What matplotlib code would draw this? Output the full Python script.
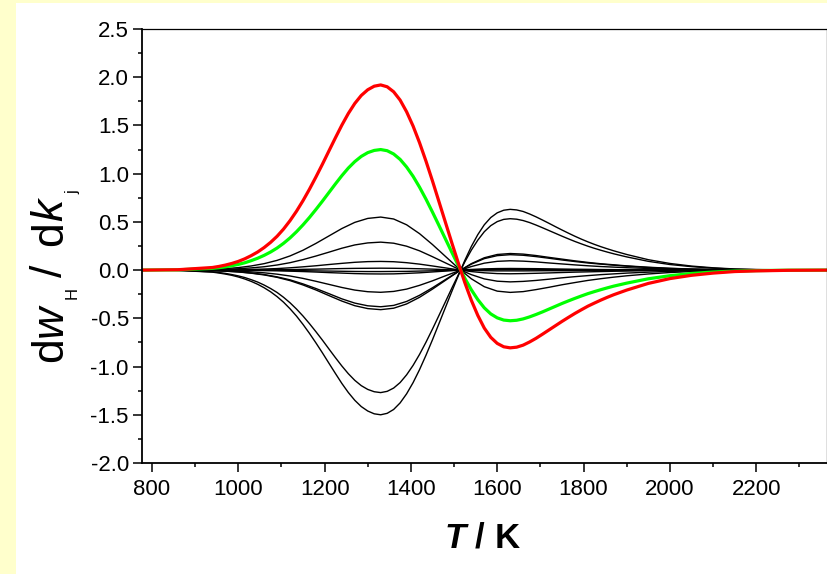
import matplotlib
matplotlib.use("Agg")
import matplotlib.pyplot as plt
from matplotlib.patches import Rectangle
from matplotlib.ticker import MultipleLocator

plt.rcParams['font.family'] = ['Liberation Sans', 'DejaVu Sans']
plt.rcParams['mathtext.fontset'] = 'custom'
plt.rcParams['mathtext.rm'] = 'Liberation Sans'
plt.rcParams['mathtext.it'] = 'Liberation Sans:italic'
plt.rcParams['mathtext.bf'] = 'Liberation Sans:bold'
try:
    plt.rcParams['mathtext.bfit'] = 'Liberation Sans:bold:italic'
except KeyError:
    pass

# Temperature grids (K): fine grid for the large-amplitude curves,
# coarse grid for the smaller ones
T_fine = [775, 860,
          940, 955, 970, 985, 1000, 1015, 1030, 1045, 1060, 1075, 1090, 1105,
          1120, 1135, 1150, 1165, 1180, 1195, 1210, 1225, 1240, 1255, 1270, 1285,
          1300, 1315, 1330, 1345, 1360, 1375, 1390, 1405, 1420, 1435, 1450, 1465,
          1480, 1495, 1510, 1525, 1540, 1555, 1570, 1585, 1600, 1615, 1630, 1645,
          1660, 1675, 1690, 1705, 1720, 1735, 1750, 1765, 1780, 1795, 1810, 1825,
          1840, 1855, 1870,
          1900, 1950, 2000, 2050, 2100, 2150, 2200, 2275, 2365]

T_coarse = [775, 860,
            940, 970, 1000, 1030, 1060, 1090, 1120, 1150, 1180, 1210, 1240, 1270,
            1300, 1330, 1360, 1390, 1420, 1450, 1480, 1510, 1540, 1570, 1600, 1630,
            1660, 1690, 1720, 1750, 1780, 1810, 1840, 1870,
            1900, 1950, 2000, 2050, 2100, 2150, 2200, 2275, 2365]

# Highlighted reactions (fine grid)
dw_red = [0, 0.004,
          0.027, 0.038, 0.052, 0.069, 0.090, 0.117, 0.150, 0.188, 0.234, 0.288, 0.351, 0.426,
          0.513, 0.611, 0.720, 0.839, 0.966, 1.098, 1.235, 1.371, 1.503, 1.624, 1.728, 1.811,
          1.870, 1.907, 1.920, 1.901, 1.849, 1.763, 1.642, 1.494, 1.321, 1.129, 0.924, 0.710,
          0.495, 0.280, 0.071, -0.131, -0.313, -0.470, -0.601, -0.697, -0.760, -0.795, -0.806, -0.799,
          -0.778, -0.745, -0.707, -0.664, -0.620, -0.576, -0.532, -0.490, -0.449, -0.411, -0.374, -0.342,
          -0.311, -0.282, -0.255,
          -0.207, -0.138, -0.088, -0.054, -0.031, -0.015, -0.008, -0.002, 0]

dw_green = [0, 0.003,
            0.018, 0.025, 0.034, 0.045, 0.059, 0.076, 0.098, 0.123, 0.153, 0.188, 0.229, 0.278,
            0.334, 0.398, 0.469, 0.546, 0.629, 0.715, 0.804, 0.893, 0.979, 1.058, 1.125, 1.179,
            1.218, 1.241, 1.250, 1.238, 1.204, 1.148, 1.069, 0.973, 0.860, 0.735, 0.601, 0.463,
            0.323, 0.183, 0.046, -0.085, -0.204, -0.306, -0.391, -0.454, -0.495, -0.518, -0.525, -0.520,
            -0.506, -0.485, -0.460, -0.433, -0.404, -0.375, -0.346, -0.319, -0.293, -0.268, -0.244, -0.223,
            -0.203, -0.184, -0.166,
            -0.135, -0.090, -0.058, -0.035, -0.020, -0.010, -0.005, -0.001, 0]

dw_k10 = [0, -0.003,
          -0.018, -0.025, -0.034, -0.046, -0.060, -0.077, -0.099, -0.124, -0.155, -0.191, -0.232, -0.282,
          -0.339, -0.404, -0.476, -0.555, -0.639, -0.726, -0.817, -0.907, -0.994, -1.074, -1.143, -1.198,
          -1.237, -1.261, -1.270, -1.257, -1.223, -1.166, -1.086, -0.988, -0.874, -0.747, -0.611, -0.470,
          -0.328, -0.185, -0.047, 0.086, 0.207, 0.311, 0.398, 0.461, 0.503, 0.526, 0.533, 0.528,
          0.514, 0.493, 0.467, 0.439, 0.410, 0.381, 0.352, 0.324, 0.297, 0.272, 0.248, 0.226,
          0.206, 0.187, 0.169,
          0.137, 0.091, 0.058, 0.036, 0.020, 0.010, 0.005, 0.001, 0]

dw_k11 = [0, -0.003,
          -0.021, -0.030, -0.041, -0.054, -0.071, -0.092, -0.117, -0.147, -0.183, -0.225, -0.275, -0.333,
          -0.401, -0.477, -0.563, -0.656, -0.755, -0.858, -0.965, -1.071, -1.175, -1.269, -1.350, -1.415,
          -1.461, -1.490, -1.500, -1.485, -1.445, -1.377, -1.283, -1.167, -1.032, -0.882, -0.722, -0.555,
          -0.387, -0.219, -0.056, 0.102, 0.245, 0.368, 0.470, 0.545, 0.594, 0.621, 0.630, 0.624,
          0.608, 0.582, 0.552, 0.519, 0.485, 0.450, 0.416, 0.383, 0.351, 0.321, 0.293, 0.267,
          0.243, 0.221, 0.200,
          0.162, 0.108, 0.069, 0.042, 0.024, 0.012, 0.006, 0.002, 0]

# Remaining reactions (coarse grid)
dw_k01 = [0, 0.001, 0.008, 0.015, 0.026, 0.043, 0.067, 0.101, 0.147, 0.206, 0.277, 0.354,
          0.431, 0.495, 0.536, 0.550, 0.530, 0.470, 0.378, 0.265, 0.142, 0.020, -0.090, -0.172,
          -0.218, -0.231, -0.223, -0.202, -0.178, -0.152, -0.129, -0.107, -0.089, -0.073,
          -0.059, -0.040, -0.025, -0.015, -0.009, -0.004, -0.002, -0.001, 0]
dw_k02 = [0, 0.001, 0.004, 0.008, 0.014, 0.023, 0.035, 0.053, 0.077, 0.109, 0.146, 0.186,
          0.227, 0.261, 0.282, 0.290, 0.279, 0.248, 0.200, 0.139, 0.075, 0.011, -0.047, -0.091,
          -0.115, -0.122, -0.117, -0.107, -0.094, -0.080, -0.068, -0.057, -0.047, -0.039,
          -0.031, -0.021, -0.013, -0.008, -0.005, -0.002, -0.001, 0, 0]
dw_k03 = [0, 0, 0.001, 0.002, 0.004, 0.007, 0.011, 0.016, 0.024, 0.034, 0.045, 0.058,
          0.070, 0.081, 0.088, 0.090, 0.087, 0.077, 0.062, 0.043, 0.023, 0.003, -0.015, -0.028,
          -0.036, -0.038, -0.036, -0.033, -0.029, -0.025, -0.021, -0.018, -0.015, -0.012,
          -0.010, -0.006, -0.004, -0.003, -0.001, -0.001, 0, 0, 0]
dw_k04 = [0, 0, 0, 0.001, 0.001, 0.002, 0.002, 0.004, 0.005, 0.008, 0.010, 0.013,
          0.016, 0.018, 0.019, 0.020, 0.019, 0.017, 0.014, 0.010, 0.005, 0.001, -0.003, -0.006,
          -0.008, -0.008, -0.008, -0.007, -0.006, -0.006, -0.005, -0.004, -0.003, -0.003,
          -0.002, -0.001, -0.001, -0.001, 0, 0, 0, 0, 0]
dw_k05 = [0, 0, 0, 0, -0.001, -0.001, -0.002, -0.003, -0.004, -0.006, -0.008, -0.010,
          -0.012, -0.014, -0.015, -0.015, -0.014, -0.013, -0.010, -0.007, -0.004, -0.001, 0.002, 0.005,
          0.006, 0.006, 0.006, 0.006, 0.005, 0.004, 0.004, 0.003, 0.002, 0.002,
          0.002, 0.001, 0.001, 0, 0, 0, 0, 0, 0]
dw_k06 = [0, 0, -0.001, -0.001, -0.002, -0.003, -0.005, -0.007, -0.011, -0.015, -0.020, -0.026,
          -0.031, -0.036, -0.039, -0.040, -0.039, -0.034, -0.028, -0.019, -0.010, -0.001, 0.007, 0.013,
          0.016, 0.017, 0.016, 0.015, 0.013, 0.011, 0.009, 0.008, 0.006, 0.005,
          0.004, 0.003, 0.002, 0.001, 0.001, 0, 0, 0, 0]
dw_k07 = [0, 0, -0.003, -0.006, -0.011, -0.018, -0.028, -0.042, -0.061, -0.086, -0.116, -0.148,
          -0.180, -0.207, -0.224, -0.230, -0.221, -0.197, -0.158, -0.111, -0.059, -0.009, 0.037, 0.072,
          0.091, 0.097, 0.093, 0.085, 0.074, 0.064, 0.054, 0.045, 0.037, 0.031,
          0.025, 0.017, 0.011, 0.006, 0.004, 0.002, 0.001, 0, 0]
dw_k08 = [0, -0.001, -0.005, -0.010, -0.018, -0.030, -0.046, -0.070, -0.101, -0.143, -0.191, -0.244,
          -0.298, -0.342, -0.370, -0.380, -0.366, -0.325, -0.261, -0.183, -0.098, -0.014, 0.062, 0.119,
          0.150, 0.160, 0.154, 0.140, 0.123, 0.105, 0.089, 0.074, 0.062, 0.051,
          0.041, 0.027, 0.017, 0.011, 0.006, 0.003, 0.002, 0, 0]
dw_k09 = [0, -0.001, -0.006, -0.011, -0.019, -0.032, -0.050, -0.075, -0.109, -0.154, -0.206, -0.264,
          -0.321, -0.369, -0.399, -0.410, -0.395, -0.351, -0.282, -0.197, -0.106, -0.015, 0.067, 0.128,
          0.162, 0.172, 0.166, 0.151, 0.132, 0.114, 0.096, 0.080, 0.066, 0.055,
          0.044, 0.030, 0.019, 0.011, 0.007, 0.003, 0.002, 0, 0]

coarse_curves = [dw_k01, dw_k02, dw_k03, dw_k04, dw_k05, dw_k06, dw_k07, dw_k08, dw_k09]
fine_black_curves = [dw_k10, dw_k11]

x_ticks = [800, 1000, 1200, 1400, 1600, 1800, 2000, 2200]
y_ticks = [-2.0, -1.5, -1.0, -0.5, 0.0, 0.5, 1.0, 1.5, 2.0, 2.5]

W, H = 828, 574
fig = plt.figure(figsize=(W / 100, H / 100), dpi=100, facecolor='white')

# pale yellow frame on left and top edges
fig.patches.append(Rectangle((0, 0), 16 / W, 1, transform=fig.transFigure,
                             facecolor='#FFFFCC', edgecolor='none', zorder=-10))
fig.patches.append(Rectangle((0, 1 - 3 / H), 1, 3 / H, transform=fig.transFigure,
                             facecolor='#FFFFCC', edgecolor='none', zorder=-10))

ax = fig.add_axes([142 / W, 1 - 463 / H, (827 - 142) / W, (463 - 29) / H])

line_kw = dict(solid_joinstyle='round', solid_capstyle='round')
for c in coarse_curves:
    ax.plot(T_coarse, c, color='black', lw=1.0, **line_kw)
for c in fine_black_curves:
    ax.plot(T_fine, c, color='black', lw=1.0, **line_kw)
ax.plot(T_fine, dw_green, color='#00FF00', lw=2.3, **line_kw)
ax.plot(T_fine, dw_red, color='#FF0000', lw=2.3, **line_kw)

ax.set_xlim(777, 2364)
ax.set_ylim(-2.0, 2.5)
ax.set_xticks(x_ticks)
ax.set_xticklabels([str(v) for v in x_ticks])
ax.set_yticks(y_ticks)
ax.set_yticklabels([f"{v:.1f}" for v in y_ticks])
ax.xaxis.set_minor_locator(MultipleLocator(100))
ax.yaxis.set_minor_locator(MultipleLocator(0.25))

ax.tick_params(which='both', direction='out', top=False, right=False,
               width=1.1, labelsize=16, color='black')
ax.tick_params(which='major', length=6.5)
ax.tick_params(which='minor', length=3.2)
ax.tick_params(axis='y', pad=3)
ax.tick_params(axis='x', pad=5)

for side in ('left', 'bottom'):
    ax.spines[side].set_linewidth(1.3)
for side in ('top', 'right'):
    ax.spines[side].set_linewidth(0.9)

fig.text(483 / W, 1 - 548 / H, r'$\mathbfit{T}$ / K', fontsize=25,
         fontweight='bold', ha='center', va='baseline')

# y label placed piece by piece so the subscripts sit just below the baseline
label_pieces = [
    # text, size, style, baseline x (px), start y (px from top)
    ('d', 32, 'normal', 62, 362),
    ('w', 32, 'italic', 62, 337),
    ('H', 12, 'normal', 77, 299),
    ('/', 32, 'normal', 62, 277),
    ('d', 32, 'normal', 62, 246),
    ('k', 32, 'italic', 62, 221),
    ('j', 12, 'normal', 77, 194),
]
for text, size, style, xb, ys in label_pieces:
    fig.text(xb / W, 1 - ys / H, text, fontsize=size, style=style,
             rotation=90, rotation_mode='anchor', ha='left', va='baseline')

fig.savefig('out.png', dpi=100, facecolor=fig.get_facecolor())
